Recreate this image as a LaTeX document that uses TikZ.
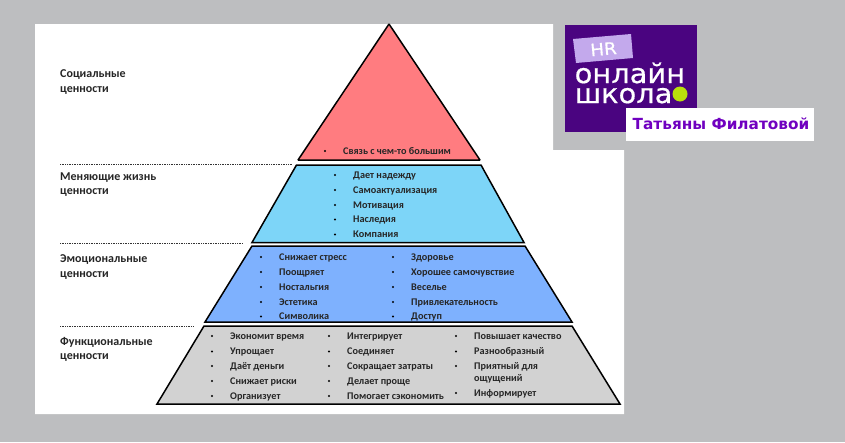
\documentclass[tikz,border=0pt]{standalone}
\usepackage{fontspec}
\setmainfont{Carlito}
\newfontfamily\logofont[FakeStretch=1.07,FakeBold=0.6]{DejaVu Sans}
\newfontfamily\namefont{DejaVu Sans}
\definecolor{pagegray}{HTML}{BDBEC0}
\definecolor{socred}{HTML}{FF7C80}
\definecolor{lifeblue}{HTML}{7DD5F8}
\definecolor{emoblue}{HTML}{7EB1FE}
\definecolor{funcgray}{HTML}{D2D2D2}
\definecolor{logopurple}{HTML}{4A0480}
\definecolor{logolilac}{HTML}{C3A9EC}
\definecolor{logolime}{HTML}{B9DF0C}
\definecolor{namepurple}{HTML}{7000C0}
\tikzset{
  layer/.style={draw=black, line width=1.5pt},
  levelname/.style={anchor=west, align=left, inner sep=0pt, font=\fontsize{12}{14.7}\selectfont\bfseries, text=black!85},
  item/.style={inner sep=0pt, text height=8pt, text depth=2pt, font=\fontsize{10.2}{11}\selectfont\bfseries, text=black!85},
  levelrule/.style={densely dotted, line width=0.7pt, black!80},
  logoword/.style={inner sep=0pt, anchor=west, align=left, text=white, font=\logofont\fontsize{27}{20}\selectfont}
}
\begin{document}
\begin{tikzpicture}[x=1pt, y=-1pt]
\def\bd{1.1pt}
\useasboundingbox (0,0) rectangle (845,442);
\fill[pagegray] (0,0) rectangle (845,442);
\fill[white] (35,24) -- (553,24) -- (553,150) -- (624,150) -- (624,414) -- (35,414) -- cycle;
% pyramid
\coordinate (T0) at (389,24);
\coordinate (T1) at (298,160);
\coordinate (T2) at (480,160);
\coordinate (L1) at (296.5,165);
\coordinate (L2) at (481,165);
\coordinate (L3) at (524,242.5);
\coordinate (L4) at (252,242.5);
\coordinate (E1) at (252,246);
\coordinate (E2) at (525,246);
\coordinate (E3) at (572,322);
\coordinate (E4) at (205,322);
\coordinate (F1) at (204,326);
\coordinate (F2) at (572,326);
\coordinate (F3) at (620,404);
\coordinate (F4) at (157,404);
\draw[layer, fill=socred, line join=bevel] (T0) -- (T2) -- (T1) -- cycle;
\draw[layer, fill=lifeblue] (L1) -- (L2) -- (L3) -- (L4) -- cycle;
\draw[layer, fill=emoblue]  (E1) -- (E2) -- (E3) -- (E4) -- cycle;
\draw[layer, fill=funcgray] (F1) -- (F2) -- (F3) -- (F4) -- cycle;
% dotted rules
\coordinate (R1a) at (60,164);
\coordinate (R1b) at (292,164);
\coordinate (R2a) at (60,243.5);
\coordinate (R2b) at (243,243.5);
\coordinate (R3a) at (60,326);
\coordinate (R3b) at (193,326);
\draw[levelrule] (R1a) -- (R1b);
\draw[levelrule] (R2a) -- (R2b);
\draw[levelrule] (R3a) -- (R3b);
% level names
\node[levelname] (social) at (60,82) {Социальные\\ценности};
\node[levelname] (life)   at (60,184.5) {Меняющие жизнь\\ценности};
\node[levelname] (emo)    at (60,267) {Эмоциональные\\ценности};
\node[levelname] (func)   at (60,349.5) {Функциональные\\ценности};
% red
\fill (325,151) circle (\bd) node[item, right=18pt] (s1) {Связь с чем-то большим};
% light blue
\fill (335,175)   circle (\bd) node[item, right=18pt] (l1) {Дает надежду};
\fill (335,190)   circle (\bd) node[item, right=18pt] (l2) {Самоактуализация};
\fill (335,205)   circle (\bd) node[item, right=18pt] (l3) {Мотивация};
\fill (335,219.5) circle (\bd) node[item, right=18pt] (l4) {Наследия};
\fill (335,234.5) circle (\bd) node[item, right=18pt] (l5) {Компания};
% blue
\fill (261,257)   circle (\bd) node[item, right=18pt] (e1) {Снижает стресс};
\fill (261,272)   circle (\bd) node[item, right=18pt] (e2) {Поощряет};
\fill (261,287)   circle (\bd) node[item, right=18pt] (e3) {Ностальгия};
\fill (261,302)   circle (\bd) node[item, right=18pt] (e4) {Эстетика};
\fill (261,316.5) circle (\bd) node[item, right=18pt] (e5) {Символика};
\fill (393,257)   circle (\bd) node[item, right=18pt] (e6) {Здоровье};
\fill (393,272)   circle (\bd) node[item, right=18pt] (e7) {Хорошее самочувствие};
\fill (393,287)   circle (\bd) node[item, right=18pt] (e8) {Веселье};
\fill (393,302)   circle (\bd) node[item, right=18pt] (e9) {Привлекательность};
\fill (393,316.5) circle (\bd) node[item, right=18pt] (e10) {Доступ};
% gray
\fill (212,336)   circle (\bd) node[item, right=18pt] (f1) {Экономит время};
\fill (212,351.5) circle (\bd) node[item, right=18pt] (f2) {Упрощает};
\fill (212,366)   circle (\bd) node[item, right=18pt] (f3) {Даёт деньги};
\fill (212,381)   circle (\bd) node[item, right=18pt] (f4) {Снижает риски};
\fill (212,396)   circle (\bd) node[item, right=18pt] (f5) {Организует};
\fill (329,336)   circle (\bd) node[item, right=18pt] (f6) {Интегрирует};
\fill (329,351.5) circle (\bd) node[item, right=18pt] (f7) {Соединяет};
\fill (329,366)   circle (\bd) node[item, right=18pt] (f8) {Сокращает затраты};
\fill (329,381)   circle (\bd) node[item, right=18pt] (f9) {Делает проще};
\fill (329,396)   circle (\bd) node[item, right=18pt] (f10) {Помогает сэкономить};
\fill (456,336)   circle (\bd) node[item, right=18pt] (f11) {Повышает качество};
\fill (456,351.5) circle (\bd) node[item, right=18pt] (f12) {Разнообразный};
\fill (456,366)   circle (\bd) node[item, right=18pt] (f13) {Приятный для};
\node[item, anchor=west] (f14) at (474,378.7) {ощущений};
\fill (456,393)   circle (\bd) node[item, right=18pt] (f15) {Информирует};
% logo
\fill[logopurple] (565,25) rectangle (697,132);
\fill[logolilac] (573,39) -- (631,34) -- (633,58) -- (576,63) -- cycle;
\node[inner sep=0pt, text=white, font=\logofont\fontsize{17}{17}\selectfont, rotate=5] (hr) at (603.5,49) {HR};
\node[logoword] (online) at (574.5,83) {онлайн\\школа};
\fill[logolime] (680,94) circle (7.5);
\fill[white] (626,108) rectangle (814,141);
\node[inner sep=0pt, text=namepurple, font=\namefont\fontsize{15.3}{15}\selectfont\bfseries] (name) at (721,123.5) {Татьяны Филатовой};
\end{tikzpicture}
\end{document}
